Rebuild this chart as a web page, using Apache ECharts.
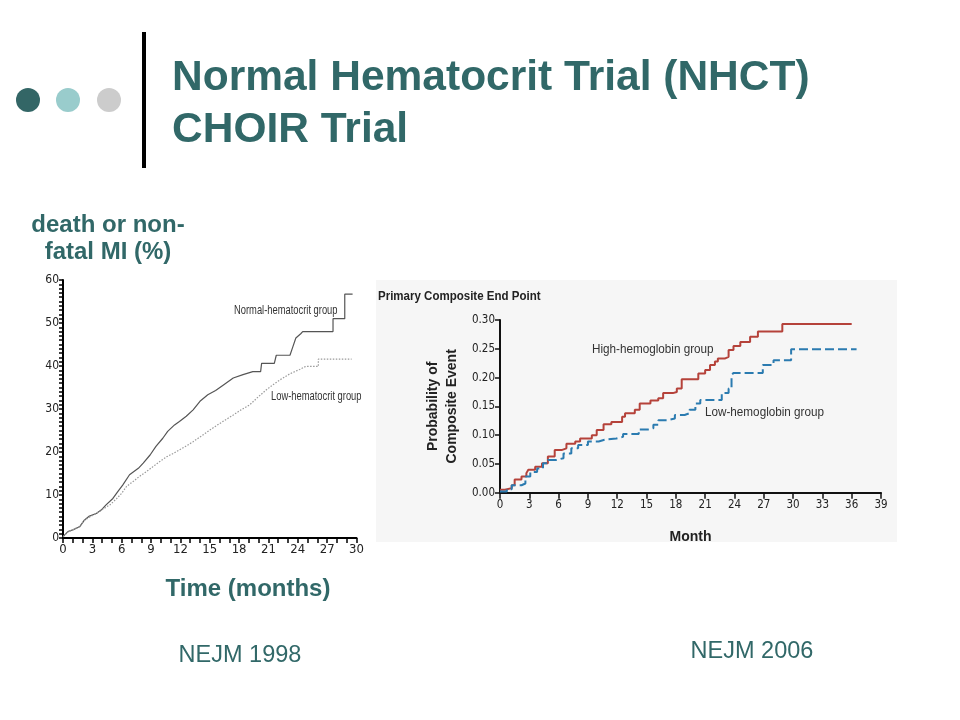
<!DOCTYPE html>
<html lang="en">
<head>
  <meta charset="UTF-8">
  <title>NHCT / CHOIR</title>
  <style>
    html, body { margin: 0; padding: 0; background: #fff; }
    #main { width: 960px; height: 720px; }
  </style>
</head>
<body>
  <div id="main"></div>
  <script src="https://cdn.jsdelivr.net/npm/echarts@6/dist/echarts.min.js"></script>
  <script>
    // NHCT 1998: death or non-fatal MI (%), months
    const normalHct = [
      [0, 0.3], [0.5, 1.5], [1, 1.9], [1.7, 2.6], [2.2, 4.2], [2.7, 5.1], [3.4, 5.7], [3.9, 6.5],
      [4.4, 7.7], [5.1, 9.2], [5.6, 10.8], [6.1, 12.3], [6.8, 14.7], [7.7, 16.2], [8.2, 17.4],
      [8.9, 19.3], [9.5, 21.3], [10.2, 23.2], [10.7, 24.8], [11.4, 26.3], [11.9, 27.1], [12.6, 28.3],
      [13.3, 29.8], [14, 31.8], [14.8, 33.3], [15.6, 34.3], [16.4, 35.6], [17.4, 37.2], [18.4, 38],
      [19.4, 38.7], [20.2, 38.7], [20.3, 40.6], [21.6, 40.6], [21.8, 42.5], [23.2, 42.5],
      [23.5, 44.5], [23.8, 46.5], [24.3, 47.5], [24.5, 48], [27.6, 48], [27.6, 51], [28.8, 51],
      [28.8, 56.7], [29.6, 56.7]
    ];
    const lowHct = [
      [0, 0.3], [0.5, 1.4], [1, 1.9], [1.7, 2.7], [2.2, 4.1], [2.8, 5], [3.5, 5.8], [4.2, 6.9],
      [4.8, 7.7], [5.5, 9.2], [6, 10.4], [6.5, 12], [7.2, 13.2], [7.8, 14.3], [8.5, 15.4], [9.2, 16.6],
      [9.9, 17.8], [10.6, 18.9], [11.2, 19.6], [11.9, 20.5], [12.6, 21.4], [13.3, 22.4], [14.2, 23.8],
      [15, 25.1], [16, 26.6], [17.4, 28.6], [18.2, 29.8], [19.1, 31], [19.9, 32.7], [20.8, 34.5],
      [21.5, 35.7], [22.2, 36.8], [23.2, 38.2], [24.2, 39.2], [24.8, 39.9], [26.1, 39.9],
      [26.1, 41.6], [29.5, 41.6]
    ];

    // CHOIR 2006: probability of composite event, months
    const highHb = [
      [0, 0.005], [0.5, 0.008], [1.2, 0.013], [1.5, 0.023], [2.2, 0.028], [2.7, 0.034], [2.9, 0.04],
      [3.6, 0.045], [4.3, 0.051], [4.9, 0.063], [5.6, 0.074], [6.3, 0.077], [6.8, 0.085], [7.7, 0.089],
      [8.2, 0.094], [9.4, 0.1], [9.9, 0.109], [10.6, 0.119], [11.4, 0.123], [12.5, 0.132], [12.8, 0.138],
      [13.8, 0.144], [14.3, 0.155], [15.4, 0.16], [16.2, 0.164], [16.7, 0.173], [17.7, 0.175],
      [18.1, 0.181], [18.6, 0.197], [20.3, 0.207], [21, 0.213], [21.5, 0.222], [22, 0.228],
      [22.3, 0.233], [23, 0.236], [23.4, 0.248], [23.9, 0.255], [24.6, 0.262], [25.6, 0.271],
      [26.4, 0.28], [28.9, 0.293], [36, 0.293]
    ];
    const lowHb = [
      [0, 0.002], [0.7, 0.006], [1.2, 0.013], [2.2, 0.016], [2.6, 0.028], [3.1, 0.036], [3.8, 0.042],
      [4.4, 0.051], [4.9, 0.057], [5.8, 0.06], [6.5, 0.068], [7.3, 0.077], [8, 0.083], [9, 0.089],
      [10.1, 0.092], [10.7, 0.094], [11.9, 0.097], [12.6, 0.102], [14.2, 0.11], [15.2, 0.112],
      [15.7, 0.118], [16.2, 0.126], [17.1, 0.129], [17.9, 0.135], [18.9, 0.138], [19.4, 0.144],
      [20, 0.155], [20.5, 0.161], [22.7, 0.173], [23.4, 0.181], [23.7, 0.204], [23.9, 0.208],
      [26.9, 0.222], [28, 0.23], [29.8, 0.249], [36.5, 0.249]
    ];

    const teal = '#316868';
    const narrow = "'Liberation Sans Narrow', 'Arial Narrow', 'DejaVu Sans Condensed', sans-serif";
    const sans = "'Liberation Sans', Arial, sans-serif";

    const chart = echarts.init(document.getElementById('main'));

    const option = {
      backgroundColor: '#fff',
      animation: false,
      grid: [
        { left: 63, top: 280, width: 293.5, height: 258 },   // NHCT
        { left: 500, top: 320, width: 381, height: 172.7 }   // CHOIR
      ],
      xAxis: [{
        gridIndex: 0, type: 'value', min: 0, max: 30, interval: 3,
        axisLine: { lineStyle: { color: '#000', width: 2 } },
        axisTick: { length: 5, lineStyle: { color: '#000', width: 1.5 } },
        minorTick: { show: true, splitNumber: 3, length: 5, lineStyle: { color: '#000', width: 1.5 } },
        splitLine: { show: false },
        axisLabel: { color: '#222', fontSize: 13, fontFamily: narrow, margin: 5 }
      }, {
        gridIndex: 1, type: 'value', min: 0, max: 39, interval: 3,
        axisLine: { lineStyle: { color: '#111', width: 2 } },
        axisTick: { length: 6, lineStyle: { color: '#111', width: 1.5 } },
        splitLine: { show: false },
        axisLabel: { color: '#222', fontSize: 11.5, fontFamily: narrow, margin: 6 },
        name: 'Month', nameLocation: 'middle', nameGap: 37,
        nameTextStyle: { color: '#222', fontSize: 14, fontWeight: 'bold', fontFamily: sans }
      }],
      yAxis: [{
        gridIndex: 0, type: 'value', min: 0, max: 60, interval: 10,
        axisLine: { show: true, lineStyle: { color: '#000', width: 2 } },
        axisTick: { show: true, length: 4, lineStyle: { color: '#000', width: 1.5 } },
        minorTick: { show: true, splitNumber: 10, length: 4, lineStyle: { color: '#000', width: 1.5 } },
        splitLine: { show: false },
        axisLabel: { color: '#222', fontSize: 12, fontFamily: narrow, margin: 4 }
      }, {
        gridIndex: 1, type: 'value', min: 0, max: 0.3, interval: 0.05,
        axisLine: { show: true, lineStyle: { color: '#111', width: 2 } },
        axisTick: { show: true, length: 5, lineStyle: { color: '#111', width: 1.5 } },
        splitLine: { show: false },
        axisLabel: { color: '#222', fontSize: 11.5, fontFamily: narrow, margin: 5,
          formatter: v => v.toFixed(2) },
        name: 'Probability of\nComposite Event', nameLocation: 'middle', nameGap: 38,
        nameTextStyle: { color: '#222', fontSize: 14, fontWeight: 'bold', fontFamily: sans, lineHeight: 19 }
      }],
      series: [{
        name: 'Normal-hematocrit group', type: 'line', xAxisIndex: 0, yAxisIndex: 0,
        showSymbol: false, data: normalHct,
        lineStyle: { color: '#555', width: 1.2 }
      }, {
        name: 'Low-hematocrit group', type: 'line', xAxisIndex: 0, yAxisIndex: 0,
        showSymbol: false, data: lowHct,
        lineStyle: { color: '#999', width: 1.2, type: [1.5, 1.5] }
      }, {
        name: 'High-hemoglobin group', type: 'line', xAxisIndex: 1, yAxisIndex: 1,
        step: 'end', showSymbol: false, data: highHb,
        lineStyle: { color: '#b5423a', width: 2 }
      }, {
        name: 'Low-hemoglobin group', type: 'line', xAxisIndex: 1, yAxisIndex: 1,
        step: 'end', showSymbol: false, data: lowHb,
        lineStyle: { color: '#2b7bb0', width: 2, type: [9, 4] }
      }],
      graphic: [
        // slide decoration
        { type: 'circle', shape: { cx: 28, cy: 100, r: 12 }, style: { fill: '#336666' } },
        { type: 'circle', shape: { cx: 68, cy: 100, r: 12 }, style: { fill: '#99cccc' } },
        { type: 'circle', shape: { cx: 109, cy: 100, r: 12 }, style: { fill: '#cccccc' } },
        { type: 'rect', shape: { x: 142, y: 32, width: 4, height: 136 }, style: { fill: '#000' } },
        { type: 'text', x: 172, y: 78, style: { text: 'Normal Hematocrit Trial (NHCT)', fill: teal,
          font: "bold 42.5px 'Liberation Sans', Arial, sans-serif", verticalAlign: 'middle' } },
        { type: 'text', x: 172, y: 130, style: { text: 'CHOIR Trial', fill: teal,
          font: "bold 42.5px 'Liberation Sans', Arial, sans-serif", verticalAlign: 'middle' } },
        // left panel texts
        { type: 'text', x: 108, y: 225, style: { text: 'death or non-', fill: teal, align: 'center',
          font: "bold 24px 'Liberation Sans', Arial, sans-serif", verticalAlign: 'middle' } },
        { type: 'text', x: 108, y: 252, style: { text: 'fatal MI (%)', fill: teal, align: 'center',
          font: "bold 24px 'Liberation Sans', Arial, sans-serif", verticalAlign: 'middle' } },
        { type: 'text', x: 248, y: 589, style: { text: 'Time (months)', fill: teal, align: 'center',
          font: "bold 24px 'Liberation Sans', Arial, sans-serif", verticalAlign: 'middle' } },
        { type: 'text', x: 240, y: 656, style: { text: 'NEJM 1998', fill: teal, align: 'center',
          font: "23.5px 'Liberation Sans', Arial, sans-serif", verticalAlign: 'middle' } },
        { type: 'text', x: 752, y: 652, style: { text: 'NEJM 2006', fill: teal, align: 'center',
          font: "23.5px 'Liberation Sans', Arial, sans-serif", verticalAlign: 'middle' } },
        { type: 'text', x: 234, y: 310, scaleX: 0.72, style: { text: 'Normal-hematocrit group', fill: '#333',
          font: "13px 'Liberation Sans', Arial, sans-serif", verticalAlign: 'middle' } },
        { type: 'text', x: 271, y: 396, scaleX: 0.72, style: { text: 'Low-hematocrit group', fill: '#333',
          font: "13px 'Liberation Sans', Arial, sans-serif", verticalAlign: 'middle' } },
        // right panel
        { type: 'rect', z: -10, shape: { x: 376, y: 280, width: 521, height: 262 }, style: { fill: '#f6f6f6' } },
        { type: 'text', x: 378, y: 296, scaleX: 0.9, style: { text: 'Primary Composite End Point', fill: '#222',
          font: "bold 12.8px 'Liberation Sans', Arial, sans-serif", verticalAlign: 'middle' } },
        { type: 'text', x: 592, y: 349, scaleX: 0.9, style: { text: 'High-hemoglobin group', fill: '#333',
          font: "13px 'Liberation Sans', Arial, sans-serif", verticalAlign: 'middle' } },
        { type: 'text', x: 705, y: 412, scaleX: 0.9, style: { text: 'Low-hemoglobin group', fill: '#333',
          font: "13px 'Liberation Sans', Arial, sans-serif", verticalAlign: 'middle' } }
      ]
    };

    chart.setOption(option);
  </script>
</body>
</html>
